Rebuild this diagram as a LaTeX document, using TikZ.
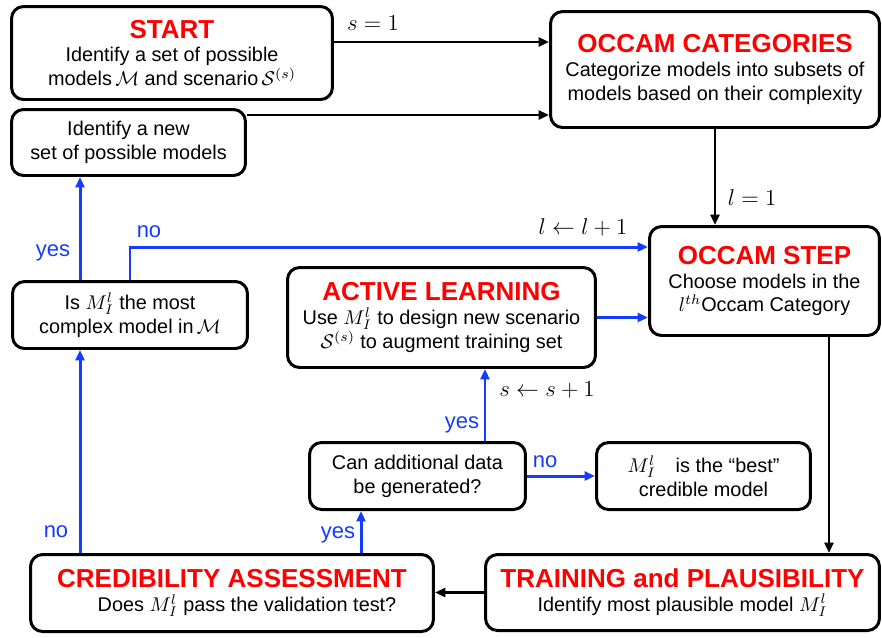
\RequirePackage{fix-cm}
\documentclass[tikz,border=0pt]{standalone}
\usepackage[no-math]{fontspec}
\setmainfont{Liberation Sans}
\usepackage{amsmath}
\usepackage{amssymb}
\usetikzlibrary{arrows.meta}
\definecolor{ttlred}{RGB}{255,0,0}
\definecolor{flowblue}{RGB}{20,60,255}
\newcommand{\boxttl}[1]{{\color{ttlred}\fontsize{14.8}{17}\selectfont\bfseries #1}}
\tikzset{
  stepbox/.style={draw, line width=1.7pt, rounded corners=0.24cm, align=center, inner sep=0pt, font=\fontsize{11.3}{13.6}\selectfont},
  blkarr/.style={-{Triangle[length=0.21cm,width=0.18cm]}, line width=1.6pt},
  bluarr/.style={blkarr, flowblue, line width=1.7pt},
  blulbl/.style={text=flowblue, font=\fontsize{12.5}{15}\selectfont, inner sep=0pt},
  mathlbl/.style={font=\fontsize{13}{15}\selectfont, inner sep=0pt}
}

\begin{document}
\begin{tikzpicture}[x=0.02cm,y=-0.02cm]
\useasboundingbox (0,0) rectangle (882,637);

\node[stepbox, minimum width=6.42cm, minimum height=1.86cm] (start) at (172,53) {\boxttl{START}\\ Identify a set of possible\\ models\,$\mathcal{M}$ and scenario\,$\mathcal{S}^{(s)}$};
\node[stepbox, minimum width=4.68cm, minimum height=1.32cm] (newset) at (128.5,142.5) {Identify a new\\ set of possible models};
\node[stepbox, minimum width=6.58cm, minimum height=2.32cm] (occcat) at (715,69.5) {\boxttl{OCCAM CATEGORIES}\\ Categorize models into subsets of\\ models based on their complexity};
\node[stepbox, minimum width=4.60cm, minimum height=2.18cm] (occstep) at (764.5,281) {\boxttl{OCCAM STEP}\\ Choose models in the\\ $l^{th}$Occam Category};
\node[stepbox, minimum width=4.70cm, minimum height=1.34cm] (ismost) at (130,315) {Is $M_I^l$ the most\\ complex model in\,$\mathcal{M}$};
\node[stepbox, minimum width=6.16cm, minimum height=2.00cm] (active) at (441.5,317.5) {\boxttl{ACTIVE LEARNING}\\ Use $M_I^l$ to design new scenario\\ $\mathcal{S}^{(s)}$ to augment training set};
\node[stepbox, minimum width=4.32cm, minimum height=1.34cm] (candata) at (417.5,476) {Can additional data\\ be generated?};
\node[stepbox, minimum width=4.28cm, minimum height=1.34cm] (best) at (703.5,476) {$M_I^l$\quad is the “best”\\ credible model};
\node[stepbox, minimum width=8.06cm, minimum height=1.54cm] (cred) at (232,593) {\boxttl{CREDIBILITY ASSESSMENT}\\ \hspace*{0.6cm}Does $M_I^l$ pass the validation test?};
\node[stepbox, minimum width=7.88cm, minimum height=1.52cm] (train) at (682.5,592.5) {\boxttl{TRAINING and PLAUSIBILITY}\\ Identify most plausible model $M_I^l$};

\coordinate (s1) at ([yshift=0.22cm]start.east);
\coordinate (n1) at ([yshift=0.55cm]newset.east);
\coordinate (o1) at ([xshift=1.29cm]occstep.south);
\coordinate (c1) at ([xshift=-1cm]ismost.south);
\coordinate (i1) at ([xshift=-1cm]ismost.north);
\coordinate (d1) at ([xshift=-1.13cm]candata.south);
\coordinate (a1) at ([xshift=0.87cm]active.south);

\draw[blkarr] (s1) -- (s1 -| occcat.west);
\draw[blkarr] (n1) -- (n1 -| occcat.west);
\draw[blkarr] (occcat.south) -- (occcat.south |- occstep.north);
\draw[blkarr] (o1) -- (o1 |- train.north);
\draw[blkarr] (train.west) -- (train.west -| cred.east);
\draw[bluarr] (c1 |- cred.north) -- (c1);
\draw[bluarr] (i1) -- (i1 |- newset.south);
\draw[bluarr] (ismost.north) |- ([yshift=0.68cm]occstep.west);
\draw[bluarr] (d1 |- cred.north) -- (d1);
\draw[bluarr] (a1 |- candata.north) -- (a1);
\draw[bluarr] (candata.east) -- (best.west);
\draw[bluarr] (active.east) -- (active.east -| occstep.west);

\node[mathlbl] (lbls1) at (373,23) {$s=1$};
\node[mathlbl] (lbll1) at (752,198) {$l=1$};
\node[mathlbl] (lblinc) at (583,227) {$l\leftarrow l+1$};
\node[mathlbl] (lblsinc) at (547,390) {$s\leftarrow s+1$};
\node[blulbl] (lblno1) at (149,232) {no};
\node[blulbl] (lblyes1) at (53,253) {yes};
\node[blulbl] (lblyes2) at (462,425) {yes};
\node[blulbl] (lblno2) at (545,462) {no};
\node[blulbl] (lblyes3) at (338,535) {yes};
\node[blulbl] (lblno3) at (56,532) {no};
\end{tikzpicture}
\end{document}
